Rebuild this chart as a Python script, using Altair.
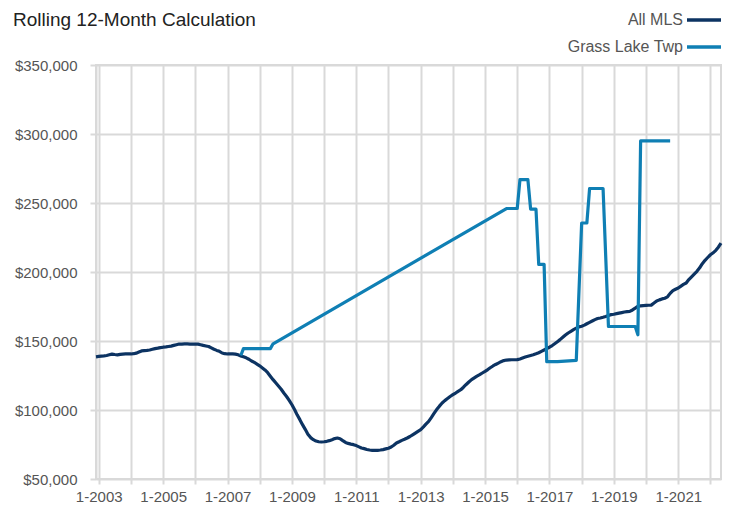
import altair as alt
import pandas as pd

FONT = "Liberation Sans, Arial, sans-serif"

series_names = ["All MLS", "Grass Lake Twp"]
series_colors = ["#0c3362", "#0f7fb4"]

# All MLS rolling 12-month median, monthly from 2002-12 to 2022-05
mls_start = "2002-12-01"
mls_values = [
    138500,
    # 2003
    138800, 139000, 139200, 139500, 140000, 140500, 140200, 140000, 140300, 140500, 140600, 140600,
    # 2004
    140600, 140800, 141200, 142000, 142800, 143000, 143200, 143500, 144000, 144500, 144800, 145200,
    # 2005
    145500, 145700, 146000, 146300, 146800, 147300, 147800, 147800, 147900, 147900, 147800, 147800,
    # 2006
    147800, 147700, 147300, 146800, 146400, 146000, 145000, 144000, 143200, 142500, 141300, 140800,
    # 2007
    140600, 140600, 140600, 140500, 140000, 139200, 138500, 137800, 136800, 135500, 134500, 133300,
    # 2008
    132000, 130500, 129000, 127000, 124500, 122000, 119700, 117400, 115000, 112300, 109800, 107000,
    # 2009
    103800, 100200, 96500, 93000, 89400, 86000, 82500, 80000, 78500, 77500, 77000, 76800,
    # 2010
    77000, 77300, 77800, 78500, 79300, 79700, 79200, 77800, 76500, 75800, 75300, 74900,
    # 2011
    74200, 73300, 72500, 72000, 71400, 71000, 70800, 70800, 70800, 71000, 71300, 71800,
    # 2012
    72300, 73200, 74500, 76100, 77000, 78000, 78800, 79700, 80800, 82000, 83300, 84500,
    # 2013
    85800, 87800, 89800, 91800, 94500, 97500, 100300, 102800, 105100, 106800, 108300, 109800,
    # 2014
    111100, 112300, 113500, 114700, 116500, 118500, 120300, 122000, 123300, 124500, 125600, 126800,
    # 2015
    128000, 129300, 130600, 131900, 133000, 134000, 135000, 135800, 136200, 136300, 136400, 136400,
    # 2016
    136500, 137000, 137700, 138400, 139000, 139500, 140000, 140700, 141500, 142500, 143500, 144500,
    # 2017
    145500, 146700, 148000, 149500, 151000, 152700, 154300, 155800, 157000, 158200, 159300, 160200,
    # 2018
    160700, 161500, 162500, 163500, 164500, 165500, 166300, 166700, 167200, 167800, 168500, 169100,
    # 2019
    169400, 169800, 170200, 170600, 171000, 171300, 171500, 172500, 173800, 175200, 175500, 175700,
    # 2020
    175800, 175900, 176000, 177500, 179000, 179800, 180500, 181000, 182000, 184500, 186500, 187500,
    # 2021
    188400, 189800, 191000, 192000, 194500, 196500, 198500, 200500, 203000, 206000, 208500, 210500,
    # 2022
    212500, 214000, 215500, 218000, 221000,
]

# Grass Lake Twp (sparse months)
gl_dates = [
    "2007-06-01", "2007-07-01", "2008-05-01", "2008-06-01", "2015-09-01", "2016-01-01",
    "2016-02-01", "2016-05-01", "2016-06-01", "2016-08-01", "2016-09-01", "2016-11-01",
    "2016-12-01", "2017-04-01", "2017-11-01", "2018-01-01", "2018-03-01", "2018-04-01",
    "2018-09-01", "2018-11-01", "2019-09-01", "2019-10-01", "2019-11-01", "2020-10-01",
]
gl_values = [
    139500, 144500, 144500, 148000, 246000, 246000,
    267000, 267000, 245500, 245500, 205500, 205500,
    135000, 135000, 136000, 235500, 235500, 260500,
    260500, 160500, 160500, 154500, 295000, 295000,
]

y_ticks = [50000, 100000, 150000, 200000, 250000, 300000, 350000]
x_years = list(range(2003, 2023))

mls_dates = pd.date_range(mls_start, periods=len(mls_values), freq="MS")
df = pd.concat([
    pd.DataFrame({"date": mls_dates.strftime("%Y-%m-%dT00:00:00"), "value": mls_values, "series": series_names[0]}),
    pd.DataFrame({"date": [d + "T00:00:00" for d in gl_dates], "value": gl_values, "series": series_names[1]}),
])

chart = alt.Chart(df).mark_line(strokeWidth=3.2, strokeJoin="round").encode(
    x=alt.X(
        "date:T",
        scale=alt.Scale(domain=[alt.DateTime(year=2002, month=12, date=1), alt.DateTime(year=2022, month=5, date=1)],
                        nice=False),
        axis=alt.Axis(
            title=None,
            values=[alt.DateTime(year=y, month=1, date=1) for y in x_years],
            labelExpr="year(datum.value) % 2 == 1 ? '1-' + year(datum.value) : ''",
            labelFont=FONT, labelFontSize=15, labelColor="#555555", labelPadding=5,
            tickSize=5, tickColor="#d9d9d9", tickWidth=2,
            gridColor="#d9d9d9", gridWidth=2,
            domain=False, labelOverlap=False, labelFlush=False,
        ),
    ),
    y=alt.Y(
        "value:Q",
        scale=alt.Scale(domain=[50000, 350000], nice=False, zero=False),
        axis=alt.Axis(
            title=None, values=y_ticks, format="$,.0f",
            labelFont=FONT, labelFontSize=15, labelColor="#555555", labelPadding=13,
            tickSize=6, tickColor="#d9d9d9", tickWidth=2,
            gridColor="#d9d9d9", gridWidth=2,
            domainColor="#d9d9d9", domainWidth=2,
        ),
    ),
    color=alt.Color(
        "series:N",
        scale=alt.Scale(domain=series_names, range=series_colors),
        legend=alt.Legend(
            title=None, orient="none", legendX=589, legendY=-64,
            symbolType="stroke", symbolSize=1156, symbolStrokeWidth=3.5,
            labelAlign="right", labelOffset={"expr": "-40"},
            labelFont=FONT, labelFontSize=16, labelColor="#555555",
            rowPadding=0,
        ),
    ),
    order=alt.Order("date:T"),
).properties(
    width=625,
    height=414,
    title=alt.Title("Rolling 12-Month Calculation", anchor="start", frame="group", dx=-83,
                    font=FONT, fontSize=19, fontWeight="normal", color="#222222", offset=0, dy=29),
    autosize=alt.AutoSizeParams(type="none"),
    padding={"left": 88, "top": 57, "right": 3, "bottom": 26},
).configure_view(
    stroke="#d9d9d9", strokeWidth=2,
)

chart.save("out.html", embed_options={"renderer": "svg", "actions": False})
